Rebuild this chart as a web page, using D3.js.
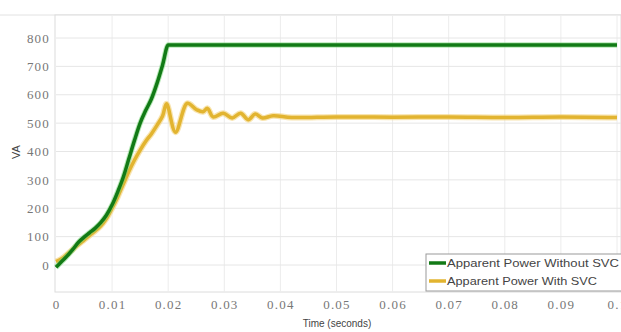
<!DOCTYPE html>
<html><head><meta charset="utf-8">
<script src="https://cdn.jsdelivr.net/npm/d3@7"></script>
<style>body{margin:0;background:#fff;}svg{display:block;}
.tk text{font-family:"Liberation Serif","DejaVu Serif",serif !important;font-size:13px;letter-spacing:1.2px;fill:#777;}
</style>
</head><body>
<svg id="c" width="621" height="332"></svg>
<script>
const xTicks = [0,0.01,0.02,0.03,0.04,0.05,0.06,0.07,0.08,0.09,0.1];
const xTickLabels = ["0","0.01","0.02","0.03","0.04","0.05","0.06","0.07","0.08","0.09","0.1"];
const yTicks = [0,100,200,300,400,500,600,700,800];
const seriesNames = ["Apparent Power Without SVC","Apparent Power With SVC"];

const tWithout = [0,0.001,0.002,0.003,0.004,0.005,0.006,0.007,0.008,0.009,0.010,0.011,0.012,0.013,0.014,0.015,0.016,0.017,0.018,0.019,0.020,0.1];
const vWithout = [-8,12,32,55,80,98,114,130,150,176,212,258,310,375,440,500,545,585,640,705,775,775];

const tWith = [0,0.001,0.002,0.003,0.004,0.005,0.006,0.007,0.008,0.009,0.010,0.011,0.012,0.013,0.014,0.015,0.016,0.017,0.018,0.019,0.0197,0.0213,0.0234,0.025,0.0262,0.027,0.028,0.0298,0.0314,0.0329,0.0343,0.0355,0.0368,0.0387,0.042,0.05,0.06,0.07,0.08,0.09,0.1];
const vWith = [12,22,38,55,72,88,104,120,138,164,200,240,285,330,370,405,436,462,492,525,568,468,570,548,540,552,522,535,518,535,512,532,518,526,520,522,521,522,520,522,520];

const svg = d3.select("#c");
const L=56, R=617, T=15, B=292;
const x = d3.scaleLinear().domain([0,0.1]).range([L,R]);
const y = d3.scaleLinear().domain([0,800]).range([265,38]);

// frame
svg.append("line").attr("x1",0).attr("x2",621).attr("y1",T).attr("y2",T).attr("stroke","#e2e2e2");
svg.append("rect").attr("x",L-1).attr("y",T).attr("width",621-L+1).attr("height",B-T)
  .attr("fill","#fff").attr("stroke","#dcdcdc");

// grid
svg.append("g").selectAll("line").data(xTicks.slice(1)).join("line")
  .attr("x1",d=>x(d)).attr("x2",d=>x(d)).attr("y1",T).attr("y2",B)
  .attr("stroke","#ececec");
svg.append("g").selectAll("line").data(yTicks).join("line")
  .attr("x1",L).attr("x2",621).attr("y1",d=>y(d)).attr("y2",d=>y(d))
  .attr("stroke","#e6e6e6");

// axes labels
const xAxis = d3.axisBottom(x).tickValues(xTicks).tickFormat((d,i)=>xTickLabels[i]).tickSize(0).tickPadding(8);
const gx = svg.append("g").attr("class","tk").attr("transform",`translate(0,${B})`).call(xAxis);
gx.select(".domain").remove();
gx.attr("font-family",null).attr("font-size",null);

const yAxis = d3.axisLeft(y).tickValues(yTicks).tickSize(0).tickPadding(6);
const gy = svg.append("g").attr("class","tk").attr("transform",`translate(${L},0)`).call(yAxis);
gy.select(".domain").remove();
gy.attr("font-family",null).attr("font-size",null);

svg.append("text").attr("x",337).attr("y",327).attr("text-anchor","middle")
  .attr("font-family","Liberation Sans").attr("font-size",10).attr("fill","#444").text("Time (seconds)");
svg.append("text").attr("transform","translate(20,152) rotate(-90)").attr("text-anchor","middle")
  .attr("font-family","Liberation Sans").attr("font-size",11).attr("fill","#444").text("VA");

// lines
const line = d3.line().x(d=>x(d[0])).y(d=>y(d[1]));
const dWithout = tWithout.map((t,i)=>[t,vWithout[i]]);
const dWith = tWith.map((t,i)=>[t,vWith[i]]);

svg.append("path").datum(dWith).attr("d",line.curve(d3.curveCatmullRom.alpha(0.5)))
  .attr("fill","none").attr("stroke","#f4d27a").attr("stroke-width",6).attr("stroke-opacity",0.6);
svg.append("path").datum(dWith).attr("d",line.curve(d3.curveCatmullRom.alpha(0.5)))
  .attr("fill","none").attr("stroke","#e2b430").attr("stroke-width",3.5).attr("stroke-linejoin","round");

svg.append("path").datum(dWithout).attr("d",line.curve(d3.curveMonotoneX))
  .attr("fill","none").attr("stroke","#6fd36f").attr("stroke-width",5.5).attr("stroke-opacity",0.5);
svg.append("path").datum(dWithout).attr("d",line.curve(d3.curveMonotoneX))
  .attr("fill","none").attr("stroke","#127a16").attr("stroke-width",3.5).attr("stroke-linejoin","round");

// legend
const lg = svg.append("g");
lg.append("rect").attr("x",426).attr("y",254).attr("width",200).attr("height",37)
  .attr("fill","#fff").attr("stroke","#9a9a9a");
const colors = ["#127a16","#e2b430"];
seriesNames.forEach((n,i)=>{
  const yy = 263 + i*18;
  lg.append("line").attr("x1",429).attr("x2",446).attr("y1",yy).attr("y2",yy)
    .attr("stroke",colors[i]).attr("stroke-width",3.5);
  lg.append("text").attr("x",447).attr("y",yy+4).attr("font-family","Liberation Sans")
    .attr("font-size",11).attr("fill","#444").attr("textLength",i===0?172:150).attr("lengthAdjust","spacingAndGlyphs").text(n);
});
</script>
</body></html>
